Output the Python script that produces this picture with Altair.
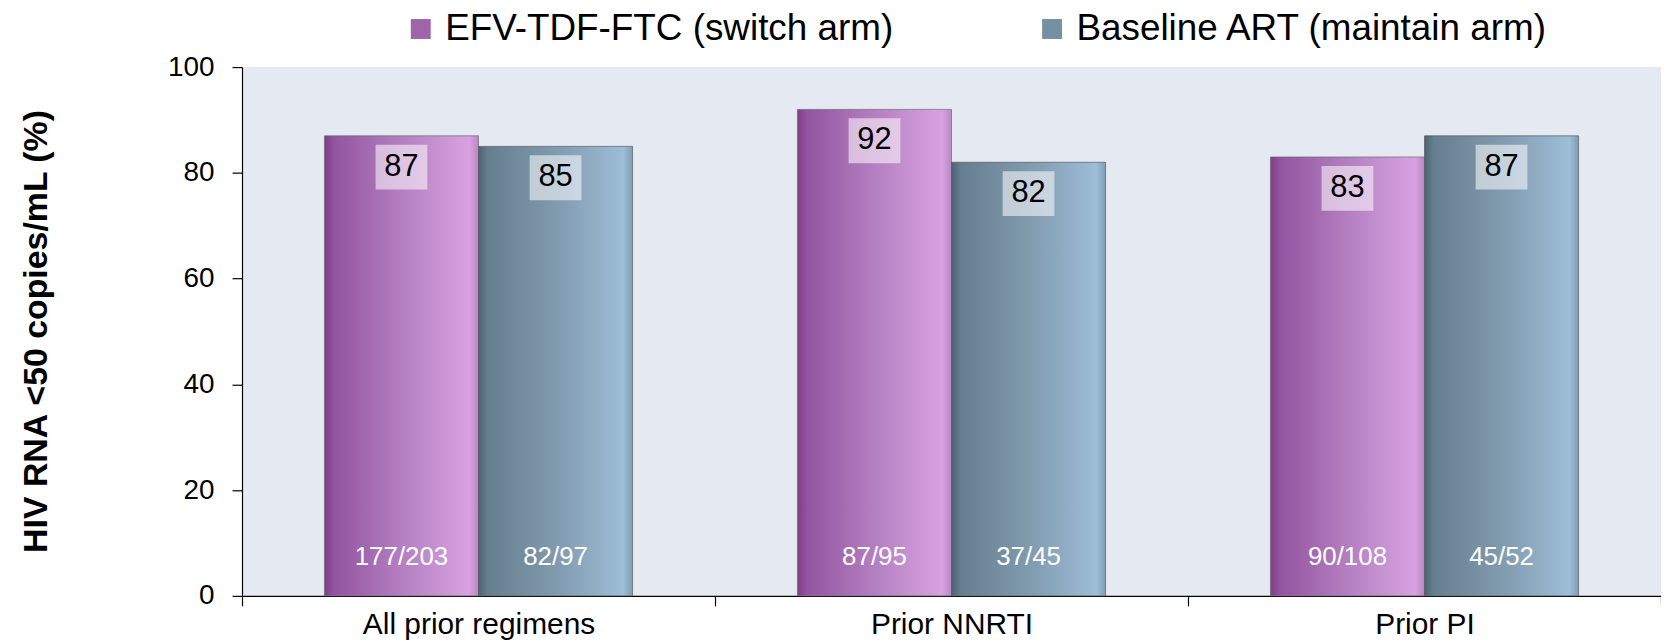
import altair as alt
import pandas as pd

groups = ["All prior regimens", "Prior NNRTI", "Prior PI"]
arms = ["EFV-TDF-FTC (switch arm)", "Baseline ART (maintain arm)"]
switch_pct = [87, 92, 83]
maintain_pct = [85, 82, 87]
switch_n = ["177/203", "87/95", "90/108"]
maintain_n = ["82/97", "37/45", "45/52"]

rows = []
for g, v, n in zip(groups, switch_pct, switch_n):
    rows.append({"group": g, "arm": arms[0], "pct": v, "n": n})
for g, v, n in zip(groups, maintain_pct, maintain_n):
    rows.append({"group": g, "arm": arms[1], "pct": v, "n": n})
df = pd.DataFrame(rows)

FONT = "Liberation Sans"

purple_grad = alt.Gradient(
    gradient="linear", x1=0, x2=1, y1=0, y2=0,
    stops=[
        alt.GradientStop(color="#7e3d85", offset=0),
        alt.GradientStop(color="#9254a0", offset=0.06),
        alt.GradientStop(color="#b47fc0", offset=0.5),
        alt.GradientStop(color="#d8a2e2", offset=0.94),
        alt.GradientStop(color="#b887c2", offset=1),
    ],
)
blue_grad = alt.Gradient(
    gradient="linear", x1=0, x2=1, y1=0, y2=0,
    stops=[
        alt.GradientStop(color="#4b6272", offset=0),
        alt.GradientStop(color="#667f8f", offset=0.06),
        alt.GradientStop(color="#809aae", offset=0.5),
        alt.GradientStop(color="#9dbdd8", offset=0.94),
        alt.GradientStop(color="#7f9db4", offset=1),
    ],
)

x_enc = alt.X(
    "group:N", sort=groups,
    scale=alt.Scale(paddingInner=0, paddingOuter=0),
    axis=alt.Axis(
        title=None, labelAngle=0, tickBand="extent", labelFont=FONT,
        labelFontSize=30, labelColor="black", domainColor="black",
        tickColor="black", tickSize=10, labelPadding=4, grid=False,
        domainWidth=1.2, tickWidth=1.2, labelLimit=0,
    ),
)
xoff = alt.XOffset("arm:N", sort=arms,
                   scale=alt.Scale(domain=arms, paddingInner=0, paddingOuter=0.535))
y_enc = alt.Y(
    "pct:Q",
    scale=alt.Scale(domain=[0, 100], nice=False),
    axis=alt.Axis(
        title="HIV RNA <50 copies/mL (%)", values=[0, 20, 40, 60, 80, 100],
        labelFont=FONT, labelFontSize=28, labelColor="black", labelPadding=18,
        tickSize=10, tickColor="black", domainColor="black", grid=False,
        domainWidth=1.2, tickWidth=1.2,
        titleFont=FONT, titleFontSize=34, titleFontWeight="bold", titleColor="black",
        titleAngle=-90, titleX=-206, titleY=265, titleAlign="center",
        titleBaseline="middle",
    ),
)

base = alt.Chart(df)

bars_switch = base.transform_filter(alt.datum.arm == arms[0]).mark_bar(
    color=purple_grad, stroke="#6b6b6b", strokeWidth=1, strokeOpacity=0.7
).encode(x=x_enc, xOffset=xoff, y=y_enc)

bars_maintain = base.transform_filter(alt.datum.arm == arms[1]).mark_bar(
    color=blue_grad, stroke="#5a5a5a", strokeWidth=1, strokeOpacity=0.7
).encode(x=x_enc, xOffset=xoff, y=y_enc)

label_box = base.mark_bar(
    width=52, yOffset=9, y2Offset=54, color="white", opacity=0.55
).encode(x=x_enc, xOffset=xoff, y=y_enc, y2="pct:Q")

label_text = base.mark_text(
    font=FONT, fontSize=31, color="black", baseline="middle", dy=31
).encode(x=x_enc, xOffset=xoff, y=y_enc, text="pct:Q")

n_text = base.mark_text(
    font=FONT, fontSize=26, color="white", baseline="middle", dy=-39
).encode(x=x_enc, xOffset=xoff, y=alt.datum(0), text="n:N")

legend_layer = base.mark_point(opacity=0, filled=True, shape="square").encode(
    x=x_enc, xOffset=xoff, y=y_enc,
    color=alt.Color(
        "arm:N", sort=arms,
        scale=alt.Scale(domain=arms, range=["#a064aa", "#7590a3"]),
        legend=alt.Legend(
            title=None, orient="none", direction="horizontal",
            legendX=161, legendY=-57, symbolType="square", symbolSize=400,
            symbolOpacity=1, symbolStrokeWidth=0, labelFont=FONT,
            labelFontSize=37, labelColor="black", labelLimit=0,
            labelOffset=6, columnPadding=140, padding=0,
        ),
    ),
)

chart = alt.layer(
    bars_switch, bars_maintain, label_box, label_text, n_text, legend_layer
).properties(
    width=1425, height=531,
    autosize=alt.AutoSizeParams(type="none"),
    padding={"left": 235, "top": 58, "right": 0, "bottom": 44},
    background="white",
).configure_view(
    fill="#e5e9f1", strokeWidth=0
)

chart.save("out.html", embed_options={"renderer": "svg", "actions": False})
